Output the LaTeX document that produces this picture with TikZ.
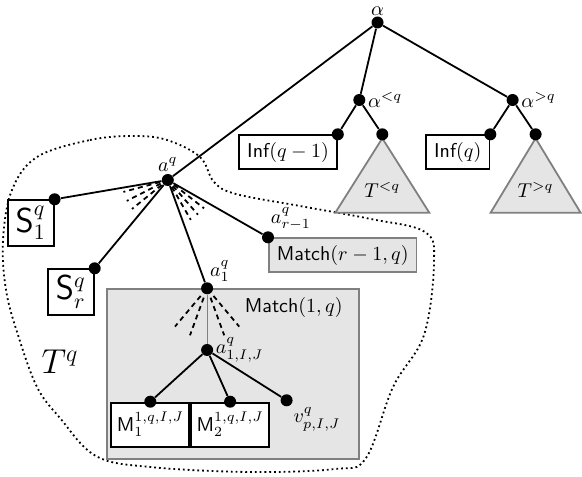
\documentclass[tikz,border=0pt]{standalone}
\usepackage{amsmath}
\usetikzlibrary{positioning, calc, backgrounds}

\begin{document}
\begin{tikzpicture}[
    x=0.5pt, y=-0.5pt,
    dot/.style={circle, fill, inner sep=0pt, minimum size=6pt},
    edge/.style={line width=0.9pt},
    lbl/.style={inner sep=1pt},
    box/.style={draw, line width=0.9pt, inner xsep=4pt, minimum height=17pt, font=\sffamily},
    greybox/.style={box, draw=black!50, fill=black!10},
    sbox/.style={draw, line width=0.9pt, minimum size=23pt, inner sep=1pt, font=\fontsize{16}{18}\selectfont},
    mbox/.style={draw, line width=0.9pt, fill=white, minimum width=39pt, minimum height=22pt, inner sep=1pt},
    subtree/.style={draw=black!50, fill=black!10, line width=0.9pt},
    fan/.style={line width=0.9pt, dash pattern=on 2.5pt off 2pt},
]
\useasboundingbox (0,0) rectangle (582,476);

% upper tree
\node[dot, label={[inner sep=0.3pt]above:$\alpha$}] (alpha) at (377.5,22.5) {};
\node[dot, label={[lbl]right:$\alpha^{<q}$}] (alo) at (359.3,100) {};
\node[dot, label={[lbl]right:$\alpha^{>q}$}] (ahi) at (512.6,100) {};
\node[dot] (inflo) at (337.8,134.3) {};
\node[dot] (tlo) at (382.3,134.3) {};
\node[dot] (infhi) at (490.3,134.3) {};
\node[dot] (thi) at (535.6,134.3) {};

% subtree T^q
\node[dot, label={[lbl]above:$a^q$}] (aq) at (167.8,180) {};
\node[dot] (s1) at (54.6,199.3) {};
\node[dot] (sr) at (94.7,268.3) {};
\node[dot, label={[lbl, xshift=-2pt]above right:$a^q_{r-1}$}] (ar) at (268,237.3) {};
\node[dot, label={[lbl, xshift=-2pt]above right:$a^q_1$}] (a1) at (207.1,288.3) {};
\node[dot, label={[lbl]right:$a^q_{1,I,J}$}] (aij) at (207.1,350) {};
\node[dot] (m1) at (150.3,401.7) {};
\node[dot] (m2) at (230.1,401.7) {};
\node[dot, label={[lbl]below right:$v^q_{p,I,J}$}] (v) at (286.6,400.3) {};

\begin{scope}[on background layer]
% outline of T^q
\draw[line width=0.9pt, dash pattern=on 0.9pt off 1.5pt] plot[smooth cycle, tension=0.6] coordinates {
    (37,157) (90,140) (134,136) (167,140) (200,157) (214,182) (236,194) (300,206)
    (371,219) (425,232) (434,262) (424,335) (393,387) (366,458) (335,469)
    (250,472) (150,467) (96,456) (60,418) (37,387) (18,335) (6,290) (3,240) (12,190)};

% Match(1,q)
\node[draw=black!50, fill=black!10, line width=0.9pt, minimum width=126pt, minimum height=85pt, anchor=north west] (match1) at (105.8,288.3) {};
\node[font=\sffamily, anchor=north east] (match1lbl) at ($(match1.north east)+(-10,2)$) {Match$(1,q)$};

% boxes
\node[box, anchor=north east] (infbox1) at (inflo.center) {Inf$(q-1)$};
\node[box, anchor=north east] (infbox2) at (infhi.center) {Inf$(q)$};
\node[greybox, anchor=north west] (matchr) at (ar.center) {Match$(r-1,q)$};
\node[sbox, anchor=north east] (s1box) at (s1.center) {$\mathsf{S}^q_1$};
\node[sbox, anchor=north east] (srbox) at (sr.center) {$\mathsf{S}^q_r$};
\node[mbox, anchor=north] (m1box) at (m1.center) {$\mathsf{M}^{1,q,I,J}_1$};
\node[mbox, anchor=north] (m2box) at (m2.center) {$\mathsf{M}^{1,q,I,J}_2$};

% triangles
\draw[subtree] ($(tlo)+(0,4)$) -- ++(47,74.4) -- ++(-94,0) -- cycle;
\draw[subtree] ($(thi)+(0,4)$) -- ++(45,74.4) -- ++(-90,0) -- cycle;
\end{scope}

\node (tlolbl) at ($(tlo)+(0,56)$) {$T^{<q}$};
\node (thilbl) at ($(thi)+(0,56)$) {$T^{>q}$};
\node[font=\fontsize{18}{20}\selectfont] (tq) at (60,362) {$T^q$};

% edges
\draw[edge] (alpha) -- (aq);
\draw[edge] (alpha) -- (alo);
\draw[edge] (alpha) -- (ahi);
\draw[edge] (alo) -- (inflo);
\draw[edge] (alo) -- (tlo);
\draw[edge] (ahi) -- (infhi);
\draw[edge] (ahi) -- (thi);
\draw[edge] (aq) -- (s1);
\draw[edge] (aq) -- (sr);
\draw[edge] (aq) -- (a1);
\draw[edge] (aq) -- (ar);
\draw[line width=0.5pt, black!50] (a1) -- (aij);
\draw[edge] (aij) -- (m1);
\draw[edge] (aij) -- (m2);
\draw[edge] (aij) -- (v);

% omitted children
\foreach \ang in {195,207,219,300,311,322}
    \draw[fan] (aq) ++(\ang:4pt) -- ++(\ang:19pt);
\foreach \ang in {230,250,290,310}
    \draw[fan] (a1) ++(\ang:5pt) -- ++(\ang:20pt);

\end{tikzpicture}
\end{document}
